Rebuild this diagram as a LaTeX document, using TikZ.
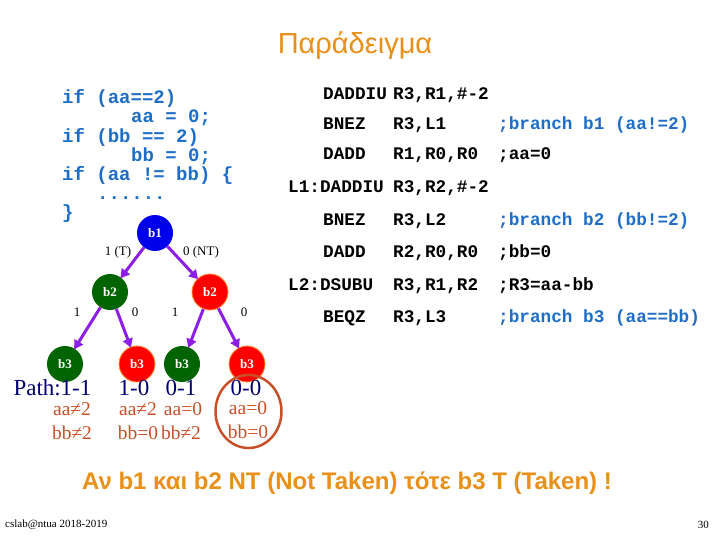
\documentclass[tikz,border=0pt]{standalone}
\usepackage{fontspec}
\setmainfont{Liberation Serif}
\newfontfamily\sansf{Liberation Sans}
\newfontfamily\monof{Liberation Mono}
\usetikzlibrary{arrows.meta,shapes.geometric}
\definecolor{codeblue}{RGB}{30,110,200}
\definecolor{titleorange}{RGB}{232,144,26}
\definecolor{bnode}{RGB}{0,0,235}
\definecolor{gnode}{RGB}{0,100,0}
\definecolor{rnode}{RGB}{255,0,0}
\definecolor{rborder}{RGB}{255,140,40}
\definecolor{arrowpurple}{RGB}{140,30,230}
\definecolor{pathnavy}{RGB}{0,0,110}
\definecolor{condbrown}{RGB}{200,80,40}
\tikzset{
  code/.style={font=\monof\bfseries\fontsize{19}{19}\selectfont, text=codeblue, anchor=mid west, inner sep=0pt},
  asm/.style={font=\monof\bfseries\fontsize{17.7}{17.7}\selectfont, text=black, anchor=mid west, inner sep=0pt},
  asmc/.style={asm, text=codeblue},
  bnodestyle/.style={circle, minimum size=36pt, inner sep=0pt, text=white, font=\bfseries\fontsize{13}{13}\selectfont},
  bblue/.style={bnodestyle, fill=bnode},
  bgreen/.style={bnodestyle, fill=gnode},
  bred/.style={bnodestyle, fill=rnode, draw=rborder, line width=0.8pt},
  elabel/.style={font=\fontsize{13}{13}\selectfont, inner sep=0pt},
  pathlbl/.style={font=\fontsize{23}{23}\selectfont, text=pathnavy, inner sep=0pt},
  cond/.style={font=\fontsize{19.5}{19.5}\selectfont, text=condbrown, inner sep=0pt},
  tarrow/.style={draw=arrowpurple, line width=3pt, -{Triangle[length=9pt,width=10pt]}, shorten >=-1pt}
}
\begin{document}
\begin{tikzpicture}[x=1pt,y=-1pt]
\useasboundingbox[fill=white] (0,0) rectangle (720,540);
% title
\node[font=\sansf\fontsize{29}{29}\selectfont, text=titleorange] (title) at (355,46) {Παράδειγμα};
% C code
\node[code] (c1) at (62,101) {if (aa==2)};
\node[code] (c2) at (131,120) {aa = 0;};
\node[code] (c3) at (62,140) {if (bb == 2)};
\node[code] (c4) at (131,159) {bb = 0;};
\node[code] (c5) at (62,178) {if (aa != bb) \{};
\node[code] (c6) at (97,197) {......};
\node[code] (c7) at (62,216) {\}};
% assembly
\node[asm] (a1o) at (323,97) {DADDIU};
\node[asm] (a1a) at (393,97) {R3,R1,\#-2};
\node[asm] (a2o) at (323,127) {BNEZ};
\node[asm] (a2a) at (393,127) {R3,L1};
\node[asmc] (a2c) at (498,127) {;branch b1 (aa!=2)};
\node[asm] (a3o) at (323,157) {DADD};
\node[asm] (a3a) at (393,157) {R1,R0,R0};
\node[asm] (a3c) at (498,157) {;aa=0};
\node[asm] (a4o) at (288,190) {L1:DADDIU};
\node[asm] (a4a) at (393,190) {R3,R2,\#-2};
\node[asm] (a5o) at (323,223) {BNEZ};
\node[asm] (a5a) at (393,223) {R3,L2};
\node[asmc] (a5c) at (498,223) {;branch b2 (bb!=2)};
\node[asm] (a6o) at (323,255) {DADD};
\node[asm] (a6a) at (393,255) {R2,R0,R0};
\node[asm] (a6c) at (498,255) {;bb=0};
\node[asm] (a7o) at (288,288) {L2:DSUBU};
\node[asm] (a7a) at (393,288) {R3,R1,R2};
\node[asm] (a7c) at (498,288) {;R3=aa-bb};
\node[asm] (a8o) at (323,320) {BEQZ};
\node[asm] (a8a) at (393,320) {R3,L3};
\node[asmc] (a8c) at (498,320) {;branch b3 (aa==bb)};
% tree
\node[bblue] (b1) at (155,233) {b1};
\node[bgreen] (b2l) at (110,292) {b2};
\node[bred] (b2r) at (210,292) {b2};
\node[bgreen] (b3a) at (65,364) {b3};
\node[bred] (b3b) at (137,364) {b3};
\node[bgreen] (b3c) at (182,364) {b3};
\node[bred] (b3d) at (247,364) {b3};
\draw[tarrow] (b1) -- (b2l);
\draw[tarrow] (b1) -- (b2r);
\draw[tarrow] (b2l) -- (b3a);
\draw[tarrow] (b2l) -- (b3b);
\draw[tarrow] (b2r) -- (b3c);
\draw[tarrow] (b2r) -- (b3d);
\node[elabel] (l1) at (118,252) {1 (T)};
\node[elabel] (l2) at (201,252) {0 (NT)};
\node[elabel] (l3) at (77,312) {1};
\node[elabel] (l4) at (135,312) {0};
\node[elabel] (l5) at (175,312) {1};
\node[elabel] (l6) at (244,312) {0};
% paths
\node[pathlbl, anchor=east] (pp) at (61,388) {Path:};
\node[pathlbl] (p1) at (76,388) {1-1};
\node[pathlbl] (p2) at (134,388) {1-0};
\node[pathlbl] (p3) at (181,388) {0-1};
\node[pathlbl] (p4) at (246,388) {0-0};
\node[cond] (d1a) at (72,409) {aa≠2};
\node[cond] (d1b) at (72,433) {bb≠2};
\node[cond] (d2a) at (138,409) {aa≠2};
\node[cond] (d2b) at (138,433) {bb=0};
\node[cond] (d3a) at (183,409) {aa=0};
\node[cond] (d3b) at (181,433) {bb≠2};
\node[cond] (d4a) at (248,408) {aa=0};
\node[cond] (d4b) at (248,432) {bb=0};
\node[ellipse, draw=condbrown, line width=2.5pt, minimum width=66pt, minimum height=73pt, inner sep=0pt] (ring) at (248.5,411.5) {};
% bottom
\node[font=\sansf\bfseries\fontsize{24}{24}\selectfont, text=titleorange] (note) at (347,483) {Αν b1 και b2 NT (Not Taken) τότε b3 T (Taken) !};
\node[font=\fontsize{11}{11}\selectfont, anchor=west, inner sep=0pt] (foot) at (5,525) {cslab@ntua 2018-2019};
\node[font=\fontsize{11}{11}\selectfont, anchor=east, inner sep=0pt] (pg) at (709,525) {30};
\end{tikzpicture}
\end{document}
